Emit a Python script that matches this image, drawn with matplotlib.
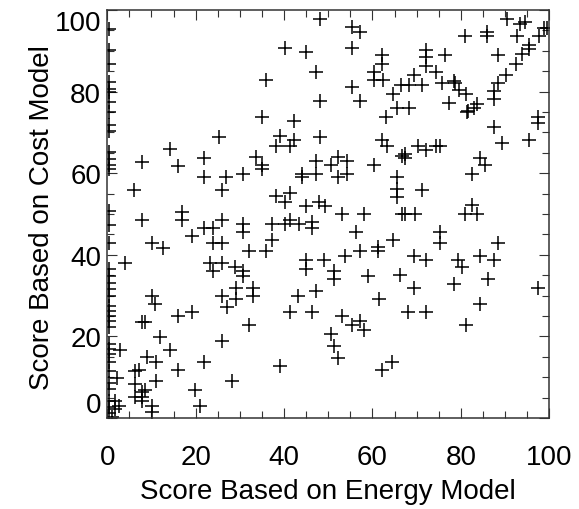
import matplotlib
matplotlib.use("Agg")
import matplotlib.pyplot as plt
from matplotlib.ticker import MultipleLocator

plt.rcParams["font.family"] = ["Liberation Sans", "DejaVu Sans"]

# Scores (energy model vs cost model)
energy_score = [
    48.2, 55.4, 57.2, 40.1, 45.0, 55.4, 62.1, 62.1, 47.2, 60.3, 60.3, 62.3, 35.9,
    55.4, 64.6, 48.2, 57.2, 65.5, 35.0, 42.3, 63.1, 39.1, 42.3, 48.2, 62.1,
    90.4, 93.4, 94.6, 98.7, 99.5, 81.0, 85.9, 85.9, 92.7, 97.6, 95.3, 95.3, 72.2,
    72.2, 76.3, 88.4, 93.8, 92.5, 72.2, 74.4, 90.3, 69.5, 66.5, 68.3, 71.2, 75.7,
    78.4, 78.7, 79.5, 81.2, 88.4, 87.4, 87.4, 68.2, 77.2, 83.6, 82.9, 81.7, 81.4,
    87.6, 97.4, 97.4, 95.3, 89.3,
    25.2, 14.3, 7.8, 21.8, 16.0, 21.8, 26.9, 30.8, 33.6, 6.1, 25.9, 7.8, 16.9,
    16.9, 21.8, 24.0, 25.9, 30.8, 30.8, 19.2, 10.1, 12.7, 24.0, 25.9, 32.1, 3.9,
    23.3, 25.9, 24.0, 29.0, 30.8, 30.7,
    38.2, 41.4, 63.3, 35.0, 35.0, 47.2, 52.2, 50.5, 54.2, 54.2, 44.0, 44.0, 47.2,
    52.2, 60.3, 66.7, 65.5, 65.5, 65.5, 38.2, 40.1, 41.4, 45.0, 48.0, 49.2, 53.1,
    58.0, 66.7, 37.3, 40.1, 41.4, 43.3, 46.3, 46.3, 56.3, 37.3, 64.6, 35.9, 53.8,
    57.2, 61.2, 61.2, 45.0, 45.0, 49.0, 51.2,
    70.3, 72.1, 74.4, 75.3, 67.3, 67.3, 84.4, 85.4, 82.6, 71.2, 82.6, 67.3, 69.7,
    81.0, 83.6, 75.3, 75.3, 88.4, 69.5, 72.1, 79.3, 80.2, 84.4, 87.4, 66.2,
    29.1, 29.1, 25.9, 27.1, 32.9, 32.9, 10.1, 10.9, 16.0, 19.2, 7.8, 8.6, 32.1,
    12.0, 25.9, 2.9, 14.3, 9.0, 11.0, 21.8, 6.3, 7.1, 16.0, 2.2, 11.0, 28.2, 6.3,
    8.6, 7.8, 19.9, 6.3, 7.8, 7.8, 10.1, 10.1, 21.0, 1.8, 2.6, 1.8, 0.5, 1.0,
    51.2, 59.0, 43.1, 47.2, 61.4, 41.4, 46.3, 53.1, 55.4, 57.2, 58.0, 50.5, 51.2,
    52.2, 39.1, 62.1, 64.4,
    69.5, 78.4, 86.1, 97.4, 68.0, 72.1, 84.4, 81.2,
    0.3, 0.3, 0.3, 0.3, 0.3, 0.3, 0.3, 0.3, 0.3, 0.3,
    0.3, 0.3, 0.3, 0.3, 0.3, 0.3, 0.3, 0.3,
    0.3, 0.3, 0.3, 0.3, 0.3, 0.3, 0.3, 0.3, 0.3, 0.3, 0.3, 0.3, 0.3, 0.3, 0.3,
    0.3, 0.3, 0.3,
]
cost_score = [
    97.9, 95.8, 94.6, 90.8, 89.7, 90.8, 88.9, 86.8, 84.7, 84.7, 82.8, 82.8, 82.8,
    81.1, 79.3, 77.8, 77.8, 76.1, 73.7, 72.8, 73.7, 69.0, 68.1, 68.8, 68.1,
    97.9, 96.6, 97.1, 95.6, 95.6, 93.6, 94.6, 93.6, 93.6, 93.6, 91.5, 90.4, 90.1,
    88.4, 88.9, 88.9, 89.3, 86.8, 86.4, 84.7, 84.1, 84.1, 81.5, 81.5, 81.5, 82.1,
    82.6, 82.1, 80.3, 79.3, 82.1, 80.1, 78.2, 76.1, 77.1, 77.0, 76.1, 75.3, 74.9,
    71.4, 73.7, 72.3, 68.1, 67.4,
    68.8, 65.9, 62.7, 63.8, 61.7, 59.0, 59.0, 59.8, 63.9, 56.0, 55.9, 48.6, 50.4,
    48.6, 46.6, 46.6, 48.6, 47.6, 45.7, 44.7, 42.8, 41.6, 42.8, 42.8, 40.9, 37.9,
    37.9, 37.9, 36.1, 36.9, 36.1, 34.7,
    66.7, 66.7, 66.7, 61.9, 61.0, 63.1, 63.9, 61.9, 62.9, 59.8, 59.8, 59.0, 59.8,
    59.0, 61.9, 64.3, 59.0, 56.2, 54.1, 54.3, 52.9, 55.1, 52.0, 52.9, 52.0, 50.0,
    50.0, 50.0, 47.6, 47.6, 48.6, 47.6, 48.0, 46.6, 45.5, 43.6, 43.6, 40.9, 39.8,
    40.9, 41.8, 40.9, 38.8, 36.5, 38.8, 36.1,
    66.7, 65.6, 66.7, 66.7, 64.8, 63.8, 63.8, 61.9, 59.8, 55.9, 52.3, 50.0, 50.0,
    50.0, 50.0, 45.7, 42.8, 42.8, 39.8, 38.8, 38.8, 36.9, 39.8, 38.8, 35.1,
    31.9, 29.2, 30.0, 27.3, 31.9, 30.0, 30.0, 27.9, 25.0, 26.0, 23.5, 23.5, 22.9,
    19.8, 18.8, 16.6, 16.6, 14.9, 13.8, 13.8, 11.6, 11.8, 11.8, 9.9, 9.0, 9.0, 8.3,
    6.9, 6.3, 6.9, 5.2, 5.1, 4.2, 3.0, 1.4, 3.0, 4.2, 3.0, 2.2, 1.2, 0.3,
    34.0, 34.9, 30.0, 31.1, 29.2, 26.0, 26.0, 25.0, 22.7, 23.7, 21.6, 20.6, 17.7,
    14.7, 12.8, 11.8, 13.8,
    31.9, 32.8, 34.0, 31.9, 26.0, 26.0, 27.9, 22.7,
    95.4, 90.1, 86.8, 82.3, 80.7, 79.9, 77.4, 74.9, 71.7, 70.4,
    65.2, 63.5, 61.9, 61.0, 50.8, 47.2, 43.0, 36.5,
    34.9, 33.2, 31.7, 30.0, 27.5, 26.3, 25.0, 23.9, 22.2, 18.1, 16.9, 15.7, 13.7,
    11.6, 8.7, 7.1, 4.2, 2.6,
]

x_label = "Score Based on Energy Model"
y_label = "Score Based on Cost Model"
tick_vals = [0, 20, 40, 60, 80, 100]

fig = plt.figure(figsize=(5.79, 5.10), dpi=100)
ax = fig.add_axes([0.1853, 0.1784, 0.7634, 0.80])

ax.plot(energy_score, cost_score, linestyle="none", marker="+", markersize=10,
        markeredgewidth=1.1, color="black", clip_on=True)

ax.set_xlim(0, 100)
ax.set_ylim(0, 100)
ax.set_xticks(tick_vals)
ax.set_yticks(tick_vals)
ax.xaxis.set_minor_locator(MultipleLocator(5))
ax.yaxis.set_minor_locator(MultipleLocator(5))
ax.tick_params(which="both", direction="in", top=True, right=True, color="#333333", width=0.8)
ax.tick_params(which="major", length=7.5)
ax.tick_params(which="minor", length=5)
ax.tick_params(axis="x", which="major", labelsize=20, pad=19)
ax.tick_params(axis="y", which="major", labelsize=20, pad=4.5)
for s in ax.spines.values():
    s.set_linewidth(1.1)
    s.set_color("#333333")

# end labels on the y axis are pulled inside the frame
ylabels = ax.get_yticklabels()
ylabels[0].set_verticalalignment("bottom")
ylabels[-1].set_verticalalignment("top")

ax.set_xlabel(x_label, fontsize=20)
ax.set_ylabel(y_label, fontsize=20)
ax.xaxis.set_label_coords(0.5, -0.147)
ax.yaxis.set_label_coords(-0.118, 0.493)

fig.savefig("out.png", dpi=100)
